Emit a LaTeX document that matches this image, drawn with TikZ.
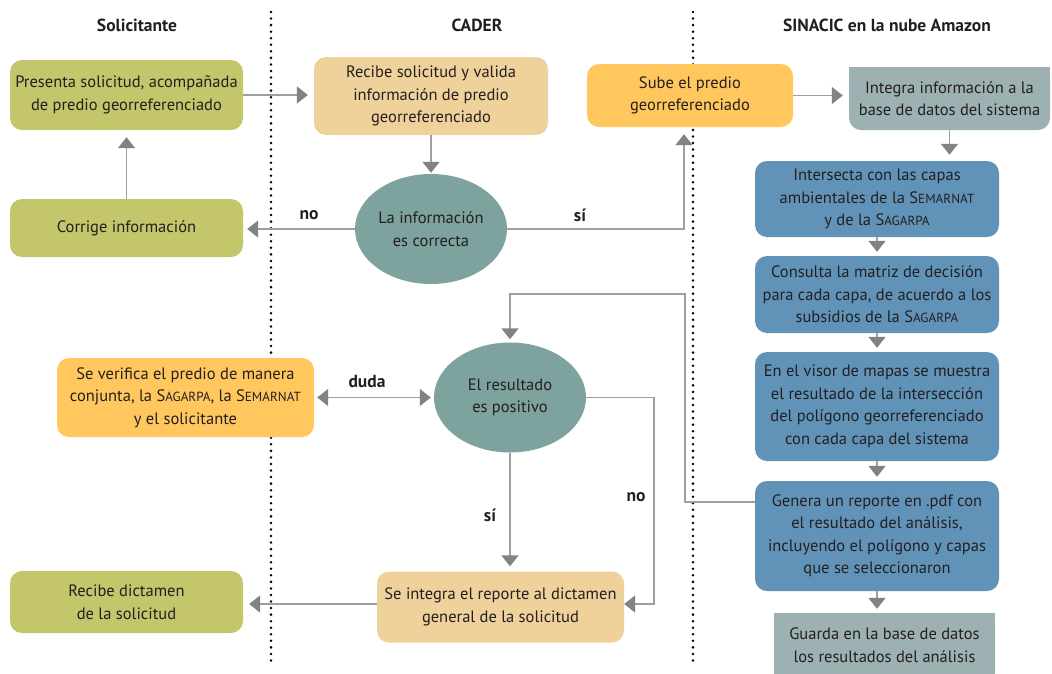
\documentclass[tikz,border=0pt]{standalone}
\usepackage{fontspec}
\setmainfont{PT Sans}
\usetikzlibrary{arrows.meta,shapes.geometric}
\definecolor{olivec}{HTML}{C4C66C}
\definecolor{tanc}{HTML}{EFD19C}
\definecolor{orangec}{HTML}{FFC75E}
\definecolor{grayc}{HTML}{9DB1B3}
\definecolor{tealc}{HTML}{7EA29E}
\definecolor{bluec}{HTML}{6193B9}
\definecolor{txt}{HTML}{231F20}
\definecolor{linegray}{HTML}{9D9FA2}
\definecolor{tipgray}{HTML}{808285}
\newcommand\mainfs{\fontsize{16.5pt}{22.5pt}\selectfont}
\newcommand\SmC[2]{#1{\fontsize{13.2pt}{13pt}\selectfont #2}}
\begin{document}
\begin{tikzpicture}[x=1pt,y=-1pt,
  box/.style={rectangle, rounded corners=12pt, inner sep=0pt, align=center, font=\mainfs, text=txt},
  plain/.style={rectangle, inner sep=0pt, align=center, font=\mainfs, text=txt},
  dec/.style={ellipse, inner sep=0pt, align=center, font=\mainfs, fill=tealc, text=txt},
  conn/.style={draw=linegray, line width=1.6pt, -{Triangle[length=11pt,width=17pt,color=tipgray]}, shorten >=6pt},
  dconn/.style={draw=linegray, line width=1.6pt, {Triangle[length=11pt,width=17pt,color=tipgray]}-{Triangle[length=11pt,width=17pt,color=tipgray]}, shorten >=3pt, shorten <=3pt},
  lbl/.style={font=\fontsize{17.5pt}{20pt}\selectfont\bfseries, text=txt, inner sep=0pt},
  hdr/.style={font=\fontsize{17.5pt}{20pt}\selectfont\bfseries, text=txt, inner sep=0pt},
  dotline/.style={draw=black, line width=2.8pt, line cap=round, dash pattern=on 0pt off 6.55pt}]
\useasboundingbox (0,0) rectangle (1052,673);
% lane separators
\draw[dotline] (271,12) -- (271,666);
\draw[dotline] (693,12) -- (693,666);
% headers
\node[hdr] (h1) at (137,25) {Solicitante};
\node[hdr] (h2) at (477,25) {CADER};
\node[hdr] (h3) at (887,25) {SINACIC en la nube Amazon};
% Solicitante lane
\node[box, fill=olivec, minimum width=233pt, minimum height=70pt] (A) at (126.5,95) {Presenta solicitud, acompañada\\de predio georreferenciado};
\node[box, fill=olivec, minimum width=233pt, minimum height=58pt] (K) at (126.5,228) {Corrige información};
\node[box, fill=orangec, minimum width=257pt, minimum height=79pt] (V) at (185.5,397.5) {Se verifica el predio de manera\\conjunta, la \SmC{S}{AGARPA}, la \SmC{S}{EMARNAT}\\y el solicitante};
\node[box, fill=olivec, minimum width=233pt, minimum height=62pt] (R) at (126.5,602) {Recibe dictamen\\de la solicitud};
% CADER lane
\node[box, fill=tanc, minimum width=234pt, minimum height=78pt] (B) at (431,96) {Recibe solicitud y valida\\información de predio\\georreferenciado};
\node[dec, minimum width=152pt, minimum height=110pt] (E1) at (431,229) {La información\\es correcta};
\node[dec, minimum width=152pt, minimum height=110pt] (E2) at (510,397.5) {El resultado\\es positivo};
\node[box, fill=tanc, minimum width=247pt, minimum height=71pt] (S) at (500.5,607) {Se integra el reporte al dictamen\\general de la solicitud};
% SINACIC lane
\node[box, fill=orangec, minimum width=206pt, minimum height=63pt] (C) at (690,95.5) {Sube el predio\\georreferenciado};
\fill[grayc, rounded corners=12pt] (849,67) rectangle (1050,130);
\fill[grayc] (849,67) rectangle (1050,95);
\node[plain, minimum width=201pt, minimum height=63pt] (D) at (949.5,98.5) {Integra información a la\\base de datos del sistema};
\node[box, fill=bluec, minimum width=244pt, minimum height=76pt] (I1) at (877,199) {Intersecta con las capas\\ambientales de la \SmC{S}{EMARNAT}\\y de la \SmC{S}{AGARPA}};
\node[box, fill=bluec, minimum width=244pt, minimum height=77pt] (I2) at (877,294.5) {Consulta la matriz de decisión\\para cada capa, de acuerdo a los\\subsidios de la \SmC{S}{AGARPA}};
\node[box, fill=bluec, minimum width=244pt, minimum height=109pt] (I3) at (877,406.5) {En el visor de mapas se muestra\\el resultado de la intersección\\del polígono georreferenciado\\con cada capa del sistema};
\node[box, fill=bluec, minimum width=244pt, minimum height=110pt] (I4) at (877,536) {Genera un reporte en .pdf con\\el resultado del análisis,\\incluyendo el polígono y capas\\que se seleccionaron};
\fill[grayc, rounded corners=12pt] (774,613) rectangle (995,685);
\fill[grayc] (774,613) rectangle (995,640);
\node[plain, minimum width=221pt, minimum height=60pt] (G) at (884.5,645) {Guarda en la base de datos\\los resultados del análisis};
% connectors
\draw[conn] (A.east) -- (B.west |- A.east);
\draw[conn, shorten >=1pt] (B.south) -- (E1.north);
\draw[conn, shorten >=4pt] (E1.west) -- (K.east |- E1.west);
\draw[conn, shorten >=7pt] (E1.east) -| ([xshift=-6pt]C.south);
\draw[conn, shorten >=7pt] (K.north) -- (A.south);
\draw[conn] (C.east) -- (D.west |- C.east);
\draw[conn] (D.south) -- (I1.north -| D.south);
\draw[conn, shorten >=4pt] (I1.south) -- (I2.north);
\draw[conn, shorten >=4pt] (I2.south) -- (I3.north);
\draw[conn, shorten >=4pt] (I3.south) -- (I4.north);
\draw[conn] (I4.south) -- (G.north -| I4.south);
\coordinate (f1) at (685,502);
\coordinate (f2) at (685,294);
\coordinate (f3) at (510,294);
\draw[conn, shorten >=3pt] (I4.west |- f1) -- (f1) -- (f2) -- (f3) -- (E2.north);
\draw[dconn] (V.east |- E2.west) -- (E2.west);
\draw[conn, shorten >=5pt] (E2.south) -- (S.north -| E2.south);
\coordinate (n1) at (654,397.5);
\coordinate (n2) at (654,604);
\draw[conn, shorten >=0pt] (E2.east) -- (n1) -- (n2) -- (S.east |- n2);
\draw[conn] (S.west |- n2) -- (R.east |- n2);
% labels
\node[lbl] (l1) at (309,215) {no};
\node[lbl] (l2) at (580,215) {sí};
\node[lbl] (l3) at (367,381) {duda};
\node[lbl] (l4) at (490,515) {sí};
\node[lbl] (l5) at (636,497) {no};
\end{tikzpicture}
\end{document}
